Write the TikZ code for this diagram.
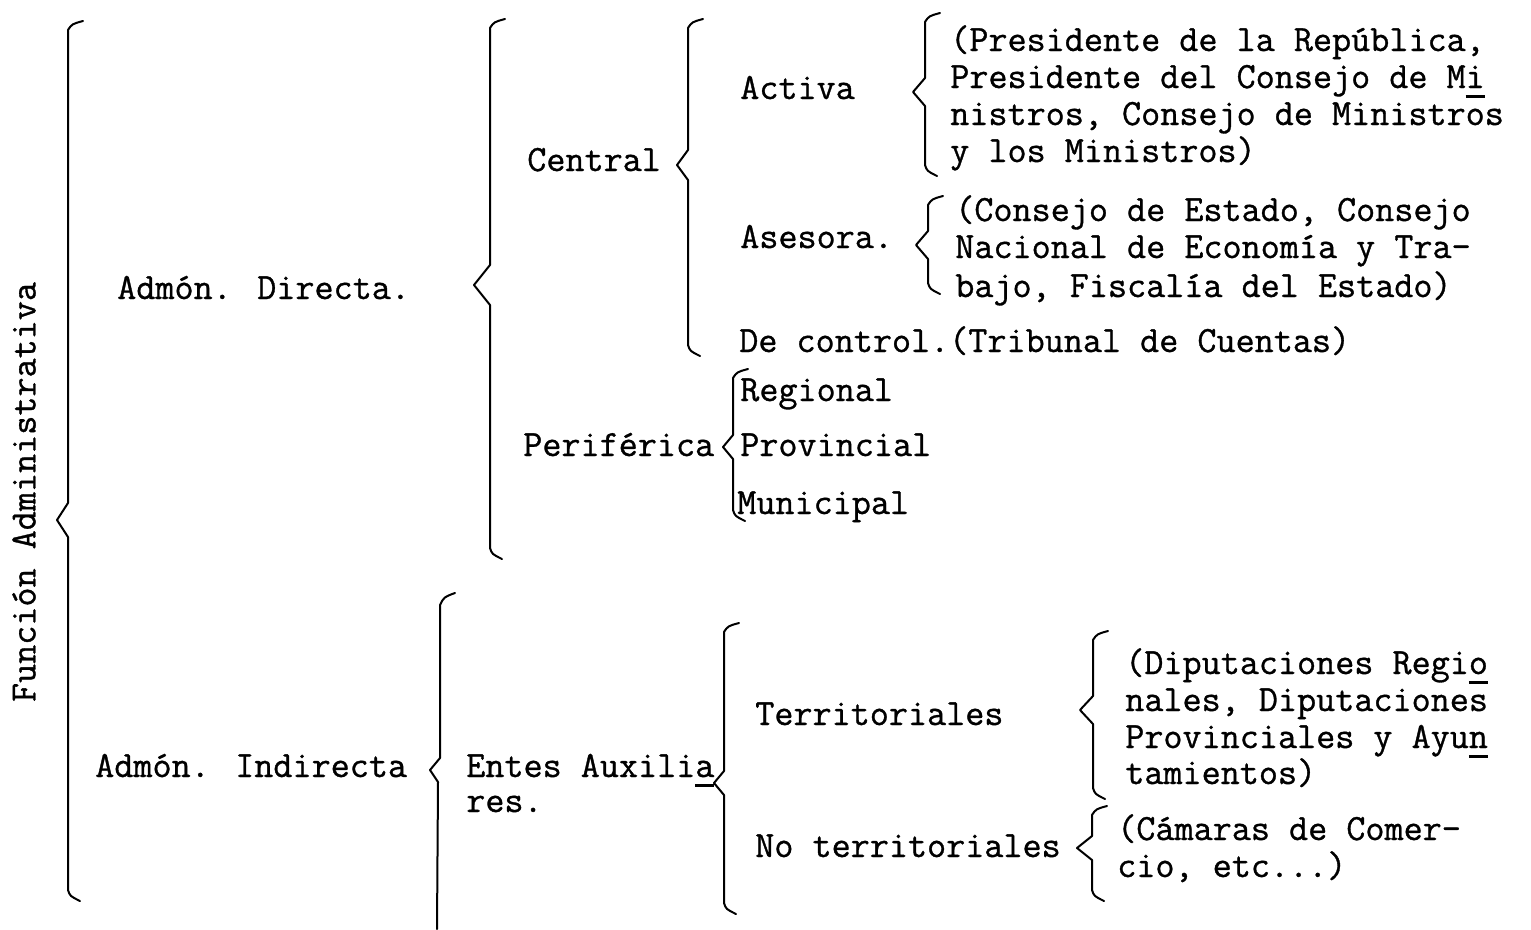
\documentclass[tikz,border=0pt]{standalone}
\usepackage{fontspec}
\newfontfamily\twfont{Latin Modern Mono}[FakeBold=0.9]
\newcommand\ulc[1]{\setbox0\hbox{#1}\rlap{\rule[-0.28em]{\wd0}{0.1em}}#1}
\tikzset{
  tw/.style={font=\twfont\fontsize{27.8}{34}\selectfont, inner sep=0pt, anchor=base west},
  brc/.style={line width=1.5pt, line join=round, line cap=round},
}
% #1 x, #2 top y, #3 cusp y, #4 bottom y, #5 cusp x, #6 half gap
\newcommand\tbrace[6]{%
  \draw[brc] (#1+15,#2-9) .. controls (#1+4,#2-6) .. (#1,#2) -- (#1,#3-#6)
    -- (#5,#3) -- (#1,#3+#6) -- (#1,#4) .. controls (#1+2,#4+6) .. (#1+12,#4+11);}
\begin{document}
\begin{tikzpicture}[x=0.75pt,y=-0.75pt]
\useasboundingbox (0,0) rectangle (1531,929);
% braces
\tbrace{68}{30}{520}{890}{57}{17}
\tbrace{490}{28}{285}{548}{474}{20}
\tbrace{688}{28}{165}{345}{677}{15}
\tbrace{925}{22}{92}{165}{913}{14}
\tbrace{928}{205}{245}{283}{916}{14}
\tbrace{733}{378}{447}{510}{723}{12}
\draw[brc] (455,593) .. controls (444,597) .. (440,605) -- (440,758) -- (430,770) -- (438,782) -- (437,929);
\tbrace{724}{632}{783}{903}{714}{12}
\tbrace{1093}{640}{710}{788}{1080}{14}
\tbrace{1092}{815}{848}{890}{1077}{12}
% texts
\node[tw, anchor=center, rotate=90] (fa) at (24,492) {Función Administrativa};
\node[tw] (ad) at (117,299) {Admón. Directa.};
\node[tw] (ce) at (527,171) {Central};
\node[tw] (ac) at (740,99) {Activa};
\node[tw] (p1) at (950,51) {(Presidente de la República,};
\node[tw] (p2) at (950,88) {Presidente del Consejo de M\ulc{i}};
\node[tw] (p3) at (950,125) {nistros, Consejo de Ministros};
\node[tw] (p4) at (950,162) {y los Ministros)};
\node[tw] (as) at (740,248) {Asesora.};
\node[tw] (c1) at (955,221) {(Consejo de Estado, Consejo};
\node[tw] (c2) at (955,258) {Nacional de Economía y Tra-};
\node[tw] (c3) at (955,297) {bajo, Fiscalía del Estado)};
\node[tw] (dc) at (739,352) {De control.(Tribunal de Cuentas)};
\node[tw] (re) at (740,401) {Regional};
\node[tw] (pe) at (523,456) {Periférica};
\node[tw] (pr) at (740,456) {Provincial};
\node[tw] (mu) at (737,514) {Municipal};
\node[tw] (ai) at (95,777) {Admón. Indirecta};
\node[tw] (en) at (466,777) {Entes Auxili\ulc{a}};
\node[tw] (rs) at (466,812) {res.};
\node[tw] (te) at (755,725) {Territoriales};
\node[tw] (nt) at (755,857) {No territoriales};
\node[tw] (d1) at (1125,674) {(Diputaciones Regi\ulc{o}};
\node[tw] (d2) at (1125,711) {nales, Diputaciones};
\node[tw] (d3) at (1125,748) {Provinciales y Ayu\ulc{n}};
\node[tw] (d4) at (1125,784) {tamientos)};
\node[tw] (k1) at (1117,840) {(Cámaras de Comer-};
\node[tw] (k2) at (1117,877) {cio, etc...)};
\end{tikzpicture}
\end{document}
